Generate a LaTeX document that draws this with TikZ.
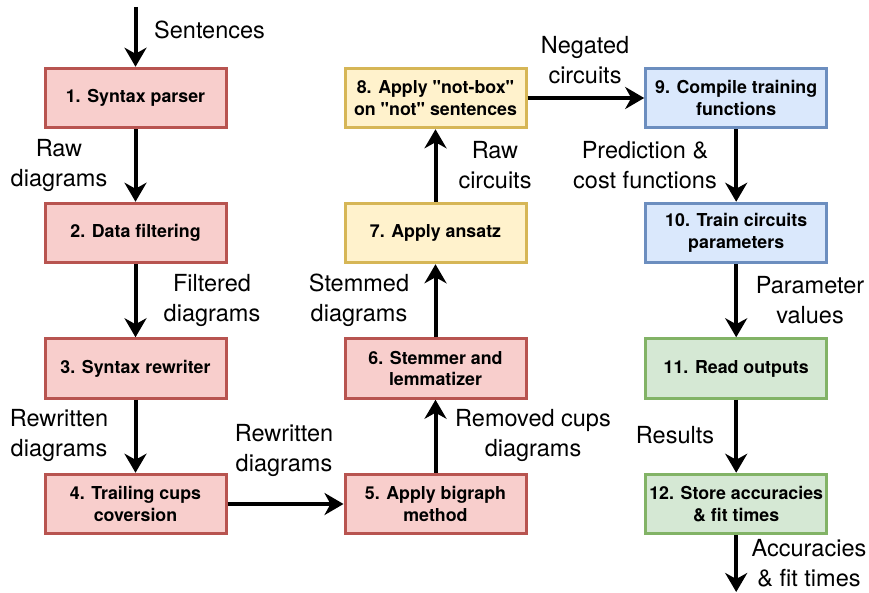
\documentclass[tikz,border=0pt]{standalone}
\usepackage{fontspec}
\setmainfont{TeX Gyre Heros}
\usetikzlibrary{arrows.meta}

\definecolor{redfill}{HTML}{F8CECC}
\definecolor{redline}{HTML}{B85450}
\definecolor{yelfill}{HTML}{FFF2CC}
\definecolor{yelline}{HTML}{D6B656}
\definecolor{bluefill}{HTML}{DAE8FC}
\definecolor{blueline}{HTML}{6C8EBF}
\definecolor{grnfill}{HTML}{D5E8D4}
\definecolor{grnline}{HTML}{82B366}

\tikzset{
  stage/.style={rectangle, line width=3pt, minimum width=181pt, minimum height=59.5pt,
    inner sep=0pt, align=center, font=\fontsize{17.8}{21.5}\selectfont\bfseries},
  redstage/.style={stage, draw=redline, fill=redfill},
  yelstage/.style={stage, draw=yelline, fill=yelfill},
  bluestage/.style={stage, draw=blueline, fill=bluefill},
  grnstage/.style={stage, draw=grnline, fill=grnfill},
  flow/.style={line width=4pt, -{Stealth[length=19pt, width=22pt, inset=6pt]}},
  lbl/.style={align=center, inner sep=0pt, font=\fontsize{23.5}{30}\selectfont}
}

\begin{document}
\begin{tikzpicture}[x=1pt, y=-1pt]
  \useasboundingbox (0,0) rectangle (869,593);

  % stages, three columns of four
  \node[redstage] (s1) at (135.5,98) {1. Syntax parser};
  \node[redstage] (s2) at (135.5,233) {2. Data filtering};
  \node[redstage] (s3) at (135.5,368.5) {3. Syntax rewriter};
  \node[redstage] (s4) at (135.5,504) {4. Trailing cups\\coversion};

  \node[redstage] (s5) at (435.5,504) {5. Apply bigraph\\method};
  \node[redstage] (s6) at (435.5,368.5) {6. Stemmer and\\lemmatizer};
  \node[yelstage] (s7) at (435.5,233) {7. Apply ansatz};
  \node[yelstage] (s8) at (435.5,98) {8. Apply \textquotedbl not-box\textquotedbl\\on \textquotedbl not\textquotedbl{} sentences};

  \node[bluestage] (s9) at (736.2,98) {9. Compile training\\functions};
  \node[bluestage] (s10) at (736.2,233) {10. Train circuits\\parameters};
  \node[grnstage] (s11) at (736.2,368.5) {11. Read outputs};
  \node[grnstage] (s12) at (736.2,504) {12. Store accuracies\\\& fit times};

  % free ends of the input and output arrows
  \coordinate (in) at (135.5,7);
  \coordinate (out) at (736.2,592);

  % connectors
  \draw[flow] (in) -- (s1);
  \draw[flow] (s1) -- (s2);
  \draw[flow] (s2) -- (s3);
  \draw[flow] (s3) -- (s4);
  \draw[flow] (s4) -- (s5);
  \draw[flow] (s5) -- (s6);
  \draw[flow] (s6) -- (s7);
  \draw[flow] (s7) -- (s8);
  \draw[flow] (s8) -- (s9);
  \draw[flow] (s9) -- (s10);
  \draw[flow] (s10) -- (s11);
  \draw[flow] (s11) -- (s12);
  \draw[flow] (s12) -- (out);

  % connector labels
  \node[lbl, anchor=west] (l0) at (154,30) {Sentences};
  \node[lbl] (l1) at (59,165) {Raw\\diagrams};
  \node[lbl] (l2) at (212,300) {Filtered\\diagrams};
  \node[lbl] (l3) at (59,435) {Rewritten\\diagrams};
  \node[lbl] (l4) at (284,450) {Rewritten\\diagrams};
  \node[lbl] (l5) at (533,435) {Removed cups\\diagrams};
  \node[lbl] (l6) at (359,300) {Stemmed\\diagrams};
  \node[lbl] (l7) at (495,165) {Raw\\circuits};
  \node[lbl] (l8) at (585,60) {Negated\\circuits};
  \node[lbl] (l9) at (645,165) {Prediction \&\\cost functions};
  \node[lbl] (l10) at (810,300) {Parameter\\values};
  \node[lbl] (l11) at (675,435) {Results};
  \node[lbl] (l12) at (809,563) {Accuracies\\\& fit times};
\end{tikzpicture}
\end{document}
